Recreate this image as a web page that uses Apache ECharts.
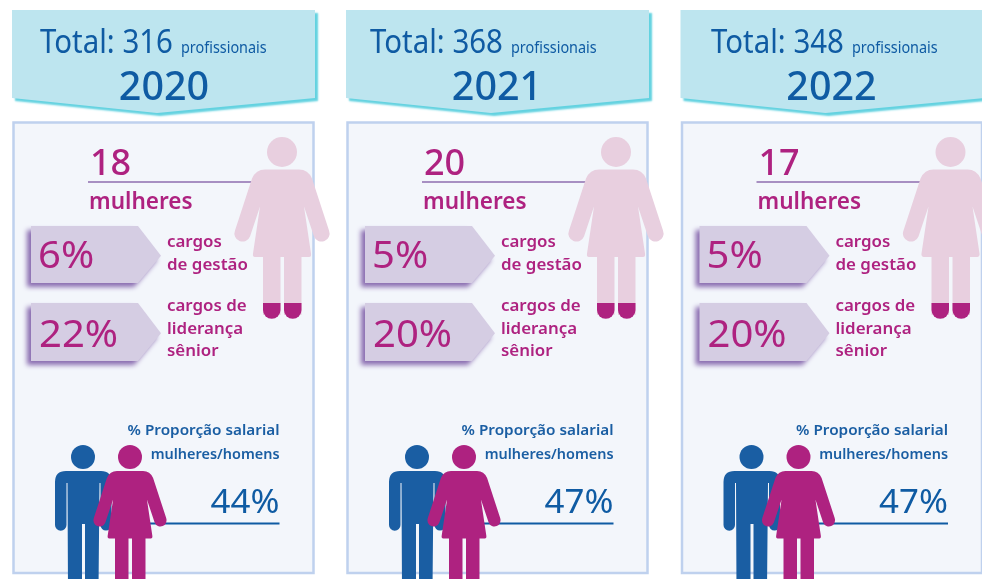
<!DOCTYPE html>
<html><head><meta charset="utf-8">
<style>html,body{margin:0;padding:0;background:#fff}#c{width:982px;height:579px}</style>
<script src="https://cdn.jsdelivr.net/npm/echarts@6/dist/echarts.min.js"></script>
</head><body><div id="c"></div>
<script>
const years = ['2020', '2021', '2022'];
const totals = [316, 368, 348];
const women = [18, 20, 17];
const managementPct = [6, 5, 5];
const seniorPct = [22, 20, 20];
const payRatioPct = [44, 47, 47];

const panelDx = [0, 334, 668.5];
const totalDx = [0, 330, 671];
const yearDx = [0, 333, 667.5];
const rows = years.map((y, i) => [i, y, totals[i], women[i], managementPct[i], seniorPct[i], payRatioPct[i]]);

const FONT = '"Noto Sans", "Open Sans", sans-serif';
const MAG = '#ae2280', BLUE = '#0f5ba3', PALE = '#e8cfdf', MAN = '#1a5ea3';

function t(str, x, base, size, color, opt) {
  opt = opt || {};
  return {
    type: 'text', x: x, y: base - 0.295 * size, scaleX: opt.sx || 1, silent: true,
    style: { text: str, x: 0, y: 0, fontFamily: FONT, fontSize: size, fontWeight: opt.w || 400, fill: color,
      align: opt.a || 'left', verticalAlign: 'middle' }
  };
}
function poly(points, style) {
  return { type: 'polygon', silent: true, shape: { points: points }, style: style };
}
const WOMAN_BODY = 'M-17 0L17 0Q26 0 30 9L47 61A8 8 0 0 1 32 67L22 37L29 84Q29.5 87.5 27 87.5L-27 87.5Q-29.5 87.5 -29 84L-22 37L-32 67A8 8 0 0 1 -47 61L-30 9Q-26 0 -17 0Z';
function woman(cx, top, s, headY, headR, color) {
  return [
    { type: 'circle', silent: true, shape: { cx: cx, cy: headY, r: headR }, style: { fill: color } },
    { type: 'path', silent: true, x: cx, y: top, scaleX: s, scaleY: s, shape: { pathData: WOMAN_BODY }, style: { fill: color } }
  ];
}
function arrow(x, y, h) {
  const pts = [[x, y], [x + 107, y], [x + 130, y + h * 0.52], [x + 107, y + h], [x, y + h]];
  return poly(pts, { fill: '#d5cde3', shadowColor: '#8a6cb0', shadowBlur: 5, shadowOffsetX: -4, shadowOffsetY: 4 });
}

function renderItem(params, api) {
  const i = api.value(0);
  const dx = panelDx[i], year = years[i];
  const tx = 40 + totalDx[i];
  const totalStr = 'Total: ' + api.value(2);
  const e = [];
  // header
  e.push(poly([[12 + dx, 10], [315 + dx, 10], [315 + dx, 98], [157 + dx, 113], [12 + dx, 98]],
    { fill: '#bde5ef', shadowColor: '#62d2e0', shadowBlur: 2, shadowOffsetX: 3, shadowOffsetY: 3 }));
  e.push(t(totalStr, tx, 53, 32, BLUE, { sx: 0.92 }));
  e.push(t('profissionais', tx + 141, 53, 16, BLUE, { sx: 0.9 }));
  e.push(t(year, 164 + yearDx[i], 100, 39.5, BLUE, { a: 'center', w: 500 }));
  // panel
  e.push({ type: 'rect', silent: true, shape: { x: 13.5 + dx, y: 122.5, width: 300, height: 450.5 },
    style: { fill: '#f3f6fb', stroke: '#bfd1ee', lineWidth: 2.5 } });
  // headcount
  e.push({ type: 'line', silent: true, shape: { x1: 88 + dx, y1: 182, x2: 262 + dx, y2: 182 }, style: { stroke: '#a78fc2', lineWidth: 2 } });
  e.push(t(String(api.value(3)), 90 + dx, 175.5, 36, MAG, { w: 500 }));
  e.push(t('mulheres', 89 + dx, 209, 23, MAG, { w: 600, sx: 0.98 }));
  // pale woman
  const cx = 282 + dx;
  e.push(...woman(cx, 169.5, 1, 152, 15, PALE));
  e.push({ type: 'rect', silent: true, shape: { x: cx - 19, y: 255, width: 17.5, height: 60 }, style: { fill: PALE } });
  e.push({ type: 'rect', silent: true, shape: { x: cx + 2, y: 255, width: 17.5, height: 60 }, style: { fill: PALE } });
  e.push({ type: 'path', silent: true, x: cx - 19, y: 303, shape: { pathData: 'M0 0L17.5 0L17.5 7A8.75 8.75 0 0 1 0 7Z' }, style: { fill: MAG } });
  e.push({ type: 'path', silent: true, x: cx + 2, y: 303, shape: { pathData: 'M0 0L17.5 0L17.5 7A8.75 8.75 0 0 1 0 7Z' }, style: { fill: MAG } });
  // arrows
  e.push(arrow(31 + dx, 226, 57));
  e.push(arrow(31 + dx, 303, 58));
  e.push(t(api.value(4) + '%', 38 + dx, 268, 38.5, MAG, { sx: 1.04 }));
  e.push(t(api.value(5) + '%', 39 + dx, 347, 38.5, MAG, { sx: 1.04 }));
  const lab = { w: 600, sx: 1.09 };
  e.push(t('cargos', 167 + dx, 247, 15.5, MAG, lab));
  e.push(t('de gestão', 167 + dx, 270, 15.5, MAG, lab));
  e.push(t('cargos de', 167 + dx, 311, 15.5, MAG, lab));
  e.push(t('liderança', 167 + dx, 334, 15.5, MAG, lab));
  e.push(t('sênior', 167 + dx, 356, 15.5, MAG, lab));
  // ratio text
  e.push(t('% Proporção salarial', 279.5 + dx, 435, 14.5, MAN, { a: 'right', w: 600, sx: 1.055 }));
  e.push(t('mulheres/homens', 279.5 + dx, 459, 14.5, MAN, { a: 'right', w: 600, sx: 0.995 }));
  e.push(t(api.value(6) + '%', 279.5 + dx, 513, 32, BLUE, { a: 'right', sx: 1.09 }));
  e.push({ type: 'line', silent: true, shape: { x1: 150 + dx, y1: 523.5, x2: 279.5 + dx, y2: 523.5 }, style: { stroke: BLUE, lineWidth: 2 } });
  // man
  e.push({ type: 'circle', silent: true, shape: { cx: 83 + dx, cy: 457, r: 12 }, style: { fill: MAN } });
  e.push({ type: 'path', silent: true, x: dx, y: 0, shape: { pathData:
    'M66 471L101 471Q111.5 471 111.5 482L111.5 525A5.5 5.5 0 0 1 100.5 525L100.5 483L99.5 483L98.5 590L85 590L85 524L82 524L82 590L68 590L67.5 483L66.5 483L66.5 525A5.5 5.5 0 0 1 55 525L55 482Q55 471 66 471Z' },
    style: { fill: MAN } });
  // dark woman
  const wx = 130 + dx;
  e.push(...woman(wx, 471, 0.77, 457, 12, MAG));
  e.push({ type: 'rect', silent: true, shape: { x: wx - 15, y: 535, width: 13.5, height: 50 }, style: { fill: MAG } });
  e.push({ type: 'rect', silent: true, shape: { x: wx + 2, y: 535, width: 13.5, height: 50 }, style: { fill: MAG } });
  return { type: 'group', children: e };
}

const chart = echarts.init(document.getElementById('c'), null, { renderer: 'canvas' });
chart.setOption({
  animation: false,
  backgroundColor: '#fff',
  series: [{
    type: 'custom',
    coordinateSystem: 'none',
    silent: true,
    clip: false,
    dimensions: ['i', 'year', 'total', 'women', 'management', 'senior', 'ratio'],
    encode: { tooltip: [] },
    data: rows,
    renderItem: renderItem
  }]
});
</script></body></html>
